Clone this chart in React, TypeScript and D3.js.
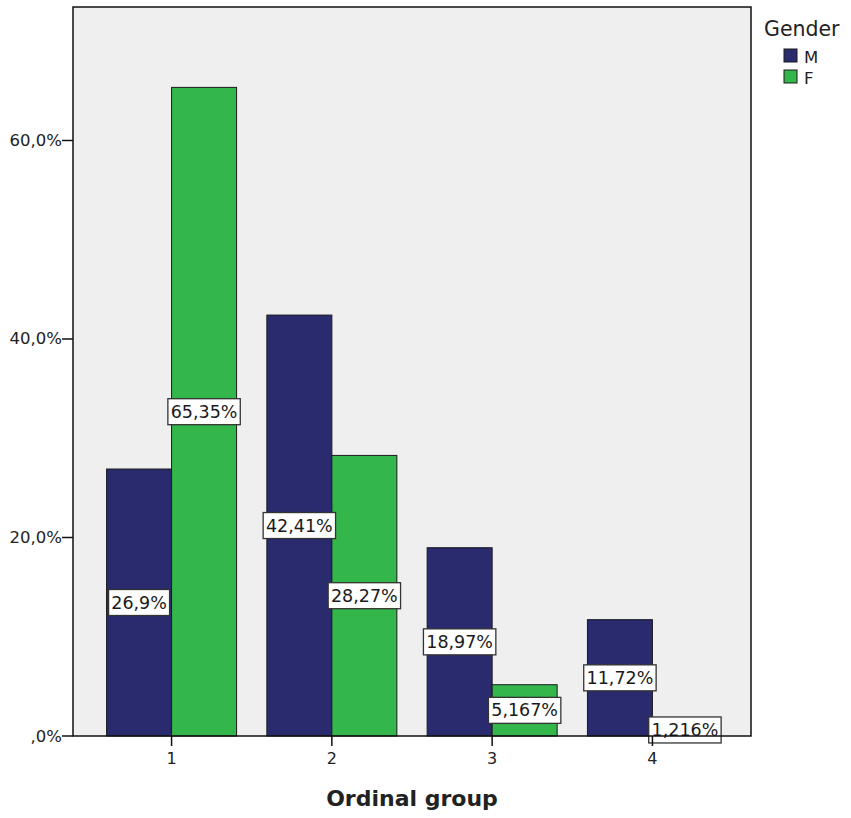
import React from "react";
import * as d3 from "d3";

const categories = ["1", "2", "3", "4"];
const seriesNames = ["M", "F"];
const valuesM = [26.9, 42.41, 18.97, 11.72];
const valuesF = [65.35, 28.27, 5.167, 1.216];
const labelsM = ["26,9%", "42,41%", "18,97%", "11,72%"];
const labelsF = ["65,35%", "28,27%", "5,167%", "1,216%"];
const yTicks = [0, 20, 40, 60];
const yTickLabels = [",0%", "20,0%", "40,0%", "60,0%"];
const colors = ["#2a2a6f", "#33b74a"];

const W = 851;
const H = 818;
const M = { left: 73, top: 7, right: 751, bottom: 736 };
const FONT = "'DejaVu Sans', Verdana, sans-serif";

export default function App() {
  const x = d3
    .scalePoint<string>()
    .domain(categories)
    .range([M.left, M.right])
    .padding(0.615);
  const y = d3.scaleLinear().domain([0, 73.45]).range([M.bottom, M.top]);
  const barW = 65;
  const series = [valuesM, valuesF];
  const labels = [labelsM, labelsF];

  const boxes: JSX.Element[] = [];
  const bars: JSX.Element[] = [];
  categories.forEach((c, i) => {
    series.forEach((vals, s) => {
      const x0 = (x(c) as number) + (s === 0 ? -barW : 0);
      const yTop = y(vals[i]);
      bars.push(
        <rect
          key={`b${s}-${i}`}
          x={x0}
          y={yTop}
          width={barW}
          height={M.bottom - yTop}
          fill={colors[s]}
          stroke="#1a1a1a"
          strokeWidth={1}
        />
      );
      const txt = labels[s][i];
      const tw = txt.length * 11.4 + 4;
      const cx = x0 + barW / 2;
      const cy = y(vals[i] / 2);
      boxes.push(
        <g key={`l${s}-${i}`}>
          <rect
            x={cx - tw / 2}
            y={cy - 13}
            width={tw}
            height={26}
            fill="#ffffff"
            stroke="#333333"
            strokeWidth={1.3}
          />
          <text
            x={cx}
            y={cy + 6}
            textAnchor="middle"
            fontSize={17.5}
            fontFamily={FONT}
            fill="#1a1a1a"
          >
            {txt}
          </text>
        </g>
      );
    });
  });

  return (
    <div style={{ position: "absolute", left: 0, top: 0 }}>
      <svg width={W} height={H} style={{ display: "block", background: "#ffffff" }}>
        <rect
          x={M.left}
          y={M.top}
          width={M.right - M.left}
          height={M.bottom - M.top}
          fill="#efefef"
        />
        {bars}
        {boxes}
        <rect
          x={M.left}
          y={M.top}
          width={M.right - M.left}
          height={M.bottom - M.top}
          fill="none"
          stroke="#111111"
          strokeWidth={1.5}
        />
        {yTicks.map((t, i) => (
          <g key={`yt${i}`}>
            <line x1={M.left - 11} x2={M.left} y1={y(t)} y2={y(t)} stroke="#111" strokeWidth={1.5} />
            <text
              x={M.left - 11}
              y={y(t) + 5.5}
              textAnchor="end"
              fontSize={16.5}
              fontFamily={FONT}
              fill="#222"
            >
              {yTickLabels[i]}
            </text>
          </g>
        ))}
        {categories.map((c) => (
          <g key={`xt${c}`}>
            <line
              x1={x(c) as number}
              x2={x(c) as number}
              y1={M.bottom}
              y2={M.bottom + 10}
              stroke="#111"
              strokeWidth={1.5}
            />
            <text
              x={x(c) as number}
              y={M.bottom + 28}
              textAnchor="middle"
              fontSize={16}
              fontFamily={FONT}
              fill="#222"
            >
              {c}
            </text>
          </g>
        ))}
        <text
          x={(M.left + M.right) / 2}
          y={806}
          textAnchor="middle"
          fontSize={22}
          fontWeight="bold"
          fontFamily={FONT}
          fill="#222"
        >
          Ordinal group
        </text>
        <text x={764} y={36} fontSize={20.5} fontFamily={FONT} fill="#222">
          Gender
        </text>
        {seriesNames.map((n, i) => (
          <g key={`lg${n}`}>
            <rect
              x={784}
              y={49 + i * 21}
              width={13}
              height={13}
              fill={colors[i]}
              stroke="#1a1a1a"
              strokeWidth={1}
            />
            <text x={804} y={62.5 + i * 21} fontSize={16.5} fontFamily={FONT} fill="#222">
              {n}
            </text>
          </g>
        ))}
      </svg>
    </div>
  );
}
